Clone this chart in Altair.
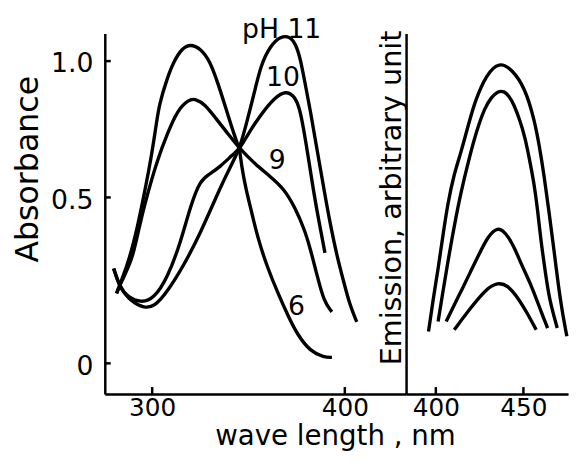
import altair as alt
import pandas as pd

FONT = "DejaVu Sans"

# ---------------- absorption spectra (left panel) ----------------
ph6_wl = [281.5, 284.1, 288.2, 292.5, 295.9, 299.3, 301.9, 303.6, 307.8, 311.3,
          315.5, 319.8, 325.0, 330.1, 334.4, 338.6, 342.9, 345.5, 346.2, 348.7,
          351.3, 354.9, 360.0, 365.1, 370.3, 375.4, 382.1, 389.2, 393.3]
ph6_abs = [0.211, 0.250, 0.315, 0.414, 0.514, 0.638, 0.757, 0.841, 0.938, 1.000,
           1.047, 1.062, 1.047, 1.000, 0.913, 0.819, 0.721, 0.678, 0.623, 0.529,
           0.464, 0.375, 0.286, 0.214, 0.146, 0.086, 0.036, 0.018, 0.018]

ph9_wl = [281.5, 284.1, 289.9, 293.3, 297.6, 302.7, 307.8, 313.0, 319.0, 322.4,
          327.5, 332.7, 339.5, 345.5, 353.3, 361.5, 368.7, 373.8, 379.0, 382.1,
          385.6, 389.2, 393.3]
ph9_abs = [0.211, 0.247, 0.315, 0.414, 0.514, 0.638, 0.732, 0.819, 0.859, 0.862,
           0.841, 0.793, 0.732, 0.678, 0.623, 0.576, 0.529, 0.473, 0.405, 0.345,
           0.265, 0.185, 0.155]

ph10_wl = [280.0, 283.1, 287.3, 294.2, 301.0, 307.8, 314.7, 319.8, 325.0, 330.1,
           335.2, 342.1, 345.5, 349.7, 356.4, 363.6, 369.2, 373.8, 376.4, 378.5,
           381.0, 383.6, 386.7, 389.7]
ph10_abs = [0.286, 0.229, 0.200, 0.182, 0.196, 0.256, 0.363, 0.473, 0.565, 0.587,
            0.612, 0.659, 0.678, 0.732, 0.804, 0.866, 0.891, 0.873, 0.830, 0.757,
            0.649, 0.529, 0.423, 0.333]

ph11_wl = [280.0, 283.1, 289.2, 295.9, 301.0, 307.7, 316.4, 325.1, 333.3, 340.5,
           345.5, 349.7, 353.3, 356.4, 361.5, 366.7, 371.3, 374.4, 376.9, 379.5,
           382.1, 385.6, 389.2, 392.3, 395.9, 399.5, 402.6, 406.2]
ph11_abs = [0.286, 0.229, 0.185, 0.167, 0.170, 0.214, 0.295, 0.393, 0.504, 0.612,
            0.678, 0.793, 0.891, 0.986, 1.058, 1.091, 1.091, 1.065, 1.011, 0.913,
            0.819, 0.674, 0.529, 0.423, 0.324, 0.244, 0.176, 0.125]

label_text = ["pH 11", "10", "9", "6"]
label_wl = [367.2, 367.9, 364.9, 374.9]
label_abs = [1.114, 0.938, 0.634, 0.170]

abs_ticks = [0, 0.5, 1.0]
abs_wl_ticks = [300, 400]

# ---------------- emission spectra (right panel) ----------------
em1_wl = [395.8, 398.5, 401.3, 404.0, 406.8, 410.5, 414.2, 418.7, 422.4, 428.8,
          436.2, 443.6, 450.9, 456.4, 459.2, 461.9, 464.7, 467.4, 471.1, 474.8]
em1 = [17.3, 26.4, 34.7, 43.8, 52.9, 61.2, 66.7, 74.9, 81.3, 88.6,
       92.2, 90.0, 84.9, 75.8, 68.5, 60.3, 50.2, 40.2, 25.5, 16.0]

em2_wl = [401.3, 404.0, 406.8, 410.5, 414.2, 418.7, 423.3, 428.0, 431.6, 435.3, 439.0,
          441.7, 444.5, 448.1, 450.9, 453.6, 456.4, 458.3, 460.1, 462.8, 464.7, 469.3]
em2 = [20.1, 28.3, 36.5, 46.6, 55.7, 64.8, 73.1, 79.5, 82.2, 84.0, 84.0,
       82.7, 80.4, 75.8, 71.2, 64.8, 57.5, 50.2, 42.0, 32.9, 26.5, 18.3]

em3_wl = [405.9, 410.5, 415.1, 419.7, 424.3, 429.8, 435.3, 439.9, 444.5, 449.1,
          454.6, 460.1, 463.8]
em3 = [20.1, 24.7, 29.2, 33.8, 38.4, 43.8, 46.4, 44.7, 41.1, 35.6, 30.1, 22.8, 18.3]

em4_wl = [410.5, 419.7, 428.8, 435.3, 440.8, 447.2, 452.8, 457.3]
em4 = [17.8, 23.8, 29.2, 30.9, 30.3, 26.5, 21.9, 17.8]

em_wl_ticks = [400, 450]

# ---------------- tables ----------------
def long(series):
    rows = []
    for name, xs, ys in series:
        for i, (x, y) in enumerate(zip(xs, ys)):
            rows.append({"s": name, "i": i, "wl": x, "v": y})
    return pd.DataFrame(rows)

abs_df = long([("6", ph6_wl, ph6_abs), ("9", ph9_wl, ph9_abs),
               ("10", ph10_wl, ph10_abs), ("11", ph11_wl, ph11_abs)])
em_df = long([("a", em1_wl, em1), ("b", em2_wl, em2),
              ("c", em3_wl, em3), ("d", em4_wl, em4)])
lab_df = pd.DataFrame({"t": label_text, "wl": label_wl, "v": label_abs})

H = 365
W_L = 305
W_R = 164

yscale = alt.Scale(domain=[-0.0923, 0.5, 1.1014], range=[H, 166, 0], nice=False, zero=False)
xscale_l = alt.Scale(domain=[275.4, 431.8], nice=False, zero=False)
xscale_r = alt.Scale(domain=[383.0, 475.5], nice=False, zero=False)

common_axis = dict(grid=False, ticks=False, tickSize=0, domainColor="black",
                   domainWidth=2.5, labelColor="black", titleColor="black",
                   labelFont=FONT, titleFont=FONT, titleFontWeight="normal")

INTERP = "basis"
LW = 3.4

left_lines = alt.Chart(abs_df).mark_line(
    color="black", strokeWidth=LW, interpolate=INTERP
).encode(
    x=alt.X("wl:Q", scale=xscale_l,
            axis=alt.Axis(values=abs_wl_ticks, labelFontSize=25, labelPadding=2,
                          title="wave length , nm", titleFontSize=28,
                          titleX=233, titleY=51.5, titleAlign="center",
                          titleBaseline="alphabetic", **common_axis)),
    y=alt.Y("v:Q", scale=yscale,
            axis=alt.Axis(values=abs_ticks,
                          labelExpr="datum.value == 0 ? '0' : format(datum.value, '.1f')",
                          labelFontSize=27, labelPadding=12, labelOffset=3,
                          title="Absorbance", titleFontSize=32, titleX=-68, titleY=137,
                          titleAngle=-90, titleAlign="center", titleBaseline="alphabetic",
                          **common_axis)),
    detail="s:N",
    order="i:Q",
)

left_text = alt.Chart(lab_df).mark_text(
    font=FONT, fontSize=27, color="black", align="center", baseline="middle"
).encode(x="wl:Q", y="v:Q", text="t:N")

left_ytick = alt.Chart(pd.DataFrame({"v": abs_ticks})).mark_rule(
    color="black", strokeWidth=2.5
).encode(y="v:Q", x=alt.value(0), x2=alt.value(6))

left_xtick = alt.Chart(pd.DataFrame({"wl": abs_wl_ticks})).mark_rule(
    color="black", strokeWidth=2.5
).encode(x="wl:Q", y=alt.value(H), y2=alt.value(H - 7))

left = alt.layer(left_lines, left_text, left_ytick, left_xtick).properties(
    width=W_L, height=H)

right_lines = alt.Chart(em_df).mark_line(
    color="black", strokeWidth=LW, interpolate=INTERP
).encode(
    x=alt.X("wl:Q", scale=xscale_r,
            axis=alt.Axis(values=em_wl_ticks, labelFontSize=25, labelPadding=2,
                          title=None, **common_axis)),
    y=alt.Y("v:Q", scale=alt.Scale(domain=[0, 100], nice=False),
            axis=alt.Axis(labels=False, title="Emission, arbitrary unit",
                          titleFontSize=29, titleX=-6, titleY=166, titleAngle=-90,
                          titleAlign="center", titleBaseline="alphabetic",
                          **common_axis)),
    detail="s:N",
    order="i:Q",
)

right_xtick = alt.Chart(pd.DataFrame({"wl": em_wl_ticks})).mark_rule(
    color="black", strokeWidth=2.5
).encode(x="wl:Q", y=alt.value(H), y2=alt.value(H - 7))

right = alt.layer(right_lines, right_xtick).properties(width=W_R, height=H)

chart = alt.hconcat(left, right, spacing=0, bounds="flush").properties(
    padding={"left": 3, "top": 5, "right": 0, "bottom": 0},
    background="white",
).configure_view(stroke=None)

chart.save("out.html", embed_options={"renderer": "svg", "actions": False})
